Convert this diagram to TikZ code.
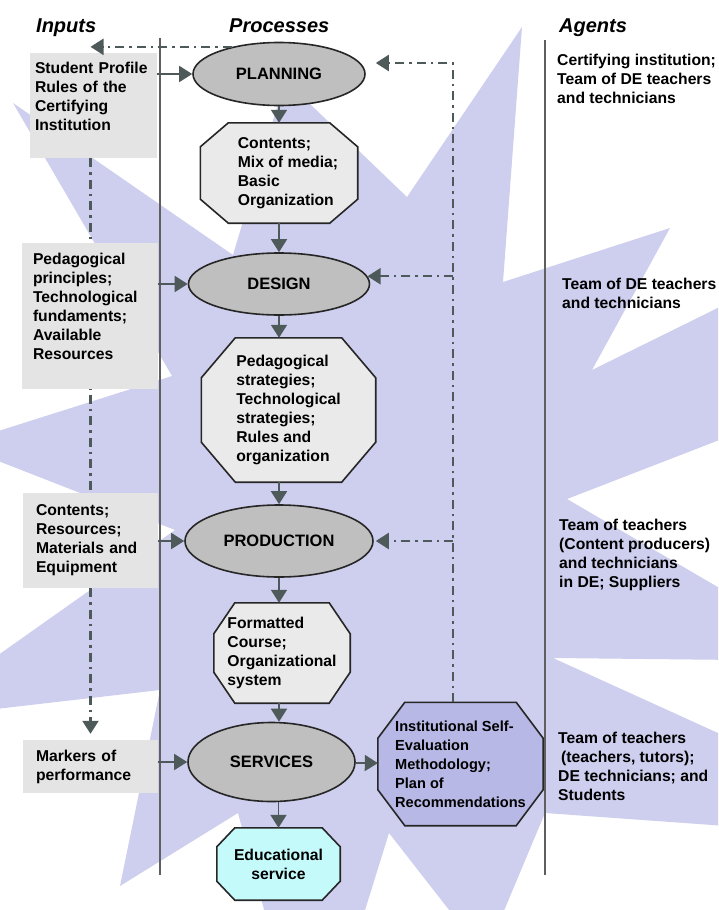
\documentclass[tikz,border=0pt]{standalone}
\usepackage{fontspec}
\setmainfont{Liberation Sans}
\usetikzlibrary{shapes.geometric,arrows.meta,backgrounds}

\definecolor{starbg}{RGB}{206,206,238}
\definecolor{boxgray}{RGB}{228,228,228}
\definecolor{ellgray}{RGB}{190,191,190}
\definecolor{octgray}{RGB}{234,234,234}
\definecolor{octblue}{RGB}{184,184,230}
\definecolor{octcyan}{RGB}{196,250,250}
\definecolor{slate}{RGB}{78,90,90}
\definecolor{rulegray}{RGB}{95,95,95}

\newcommand{\indented}[2]{\begin{tabular}{@{\hspace{#1}}l@{}}#2\end{tabular}}
% octagon frame round a named node: node, chamfer x, chamfer y, fill
\newcommand{\octframe}[4]{%
  \begin{scope}[on background layer]
    \filldraw[octline, fill=#4] ([xshift=#2]#1.north west) -- ([xshift=-#2]#1.north east)
      -- ([yshift=-#3]#1.north east) -- ([yshift=#3]#1.south east)
      -- ([xshift=-#2]#1.south east) -- ([xshift=#2]#1.south west)
      -- ([yshift=#3]#1.south west) -- ([yshift=-#3]#1.north west) -- cycle;
  \end{scope}}

\begin{document}
\begin{tikzpicture}[x=1pt, y=-1pt, >={Triangle[length=13pt,width=16pt]},
  txt/.style={font=\bfseries\fontsize{15.7}{19}\selectfont, align=left, inner sep=0pt},
  inbox/.style={txt, fill=boxgray, inner ysep=0pt},
  proc/.style={ellipse, draw=black!85, line width=1.6pt, fill=ellgray, inner sep=0pt,
    font=\bfseries\fontsize{16.5}{20}\selectfont},
  octbox/.style={rectangle, txt},
  octline/.style={draw=black!85, line width=1.6pt, line join=miter},
  colhead/.style={font=\bfseries\itshape\fontsize{20}{24}\selectfont, inner sep=0pt, anchor=base west},
  flow/.style={->, draw=slate, line width=1.7pt},
  fb/.style={->, draw=slate, line width=2.2pt, dash pattern=on 9pt off 5pt on 2.5pt off 5pt},
  colrule/.style={draw=rulegray, line width=1.4pt}]

  \useasboundingbox (0,0) rectangle (718,910);

  % starburst behind everything
  \begin{scope}[on background layer]
    \clip (0,0) rectangle (718,910);
    \fill[starbg] (522,27) -- (503,282) -- (670,228) -- (592,370) -- (740,297) -- (740,432)
      -- (567,499) -- (740,600) -- (740,660) -- (553,658) -- (740,743) -- (740,827)
      -- (545,813) -- (485,956) -- (389,833) -- (311,1084) -- (238,813) -- (120,886)
      -- (160,690) -- (-30,712) -- (-30,675) -- (175,530) -- (-30,450) -- (-30,440)
      -- (172,376) -- (13,103) -- (233,255) -- (285,80) -- (407,197) -- cycle;
  \end{scope}

  \node[colhead] (hin) at (36,32) {Inputs};
  \node[colhead] (hproc) at (229,32) {Processes};
  \node[colhead] (hag) at (559,32) {Agents};

  \draw[colrule] (160,38) -- (160,875);
  \draw[colrule] (545,40) -- (545,875);

  % inputs
  \node[inbox, text width=117pt, inner xsep=5pt, minimum height=105pt] (in1) at (93.5,105.5)
    {Student Profile\\Rules of the\\Certifying\\Institution\\ \mbox{}};
  \node[inbox, text width=114pt, inner xsep=11pt, minimum height=146pt] (in2) at (90,316)
    {Pedagogical\\principles;\\Technological\\fundaments;\\Available\\Resources\\ \mbox{}};
  \node[inbox, text width=109pt, inner xsep=13pt, minimum height=95pt] (in3) at (90.5,540.5)
    {Contents;\\Resources;\\Materials and\\Equipment};
  \node[inbox, text width=109pt, inner xsep=13pt, minimum height=53pt] (in4) at (90.5,766.5)
    {Markers of\\performance};

  % processes
  \node[proc, minimum width=172pt, minimum height=63pt] (plan) at (279,74) {PLANNING};
  \node[octbox, node distance=99pt, below of=plan, minimum width=157pt, minimum height=100pt] (cont)
    {\indented{18pt}{Contents;\\Mix of media;\\Basic\\Organization}};
  \node[proc, node distance=111pt, below of=cont, minimum width=181pt, minimum height=62pt] (design) {DESIGN};
  \node[octbox, node distance=126pt, below of=design, xshift=9.5pt, minimum width=174pt, minimum height=144pt] (strat)
    {Pedagogical\\strategies;\\Technological\\strategies;\\Rules and\\organization};
  \node[proc, node distance=131pt, below of=strat, xshift=-9.5pt, minimum width=188pt, minimum height=72pt] (prod) {PRODUCTION};
  \node[octbox, node distance=112pt, below of=prod, xshift=3pt, minimum width=136pt, minimum height=100pt] (form)
    {Formatted\\Course;\\Organizational\\system};
  \node[proc, node distance=109pt, below of=form, xshift=-10.5pt, minimum width=167pt, minimum height=79pt] (serv) {SERVICES};
  \node[octbox, node distance=102pt, below of=serv, xshift=7pt, align=center, minimum width=123pt, minimum height=72pt] (edu)
    {Educational\\service};
  \node[octbox, node distance=189pt, right of=serv, yshift=-2pt, minimum width=165pt, minimum height=123pt,
    font=\bfseries\fontsize{14.6}{19}\selectfont] (inst)
    {Institutional Self-\\Evaluation\\Methodology;\\Plan of\\Recommendations};

  \octframe{cont}{28pt}{24pt}{octgray}
  \octframe{strat}{34pt}{40pt}{octgray}
  \octframe{form}{21pt}{31pt}{octgray}
  \octframe{edu}{18pt}{19pt}{octcyan}
  \octframe{inst}{27pt}{36pt}{octblue}

  % agents
  \node[txt, anchor=west] (ag1) at (557,79) {Certifying institution;\\Team of DE teachers\\and technicians};
  \node[txt, anchor=west] (ag2) at (562,293) {Team of DE teachers\\and technicians};
  \node[txt, anchor=west] (ag3) at (559,555) {Team of teachers\\(Content producers)\\and technicians\\in DE; Suppliers};
  \node[txt, anchor=west] (ag4) at (558,766) {Team of teachers\\\hspace*{3pt}(teachers, tutors);\\DE technicians; and\\Students};

  % inputs into processes
  \draw[flow] (in1.east |- plan) -- (plan);
  \draw[flow] (in2.east |- design) -- (design);
  \draw[flow] (in3.east |- prod) -- (prod);
  \draw[flow] (in4.east |- serv) -- (serv);

  % main chain
  \draw[flow] (plan) -- (cont.north -| plan);
  \draw[flow] (cont.south -| plan) -- (design);
  \draw[flow] (design) -- (strat.north -| design);
  \draw[flow] (strat.south -| prod) -- (prod);
  \draw[flow] (prod) -- (form.north -| prod);
  \draw[flow] (form.south -| prod) -- (serv.north -| prod);
  \draw[flow] (serv.south -| edu) -- (edu);
  \draw[flow] (serv) -- (inst);

  % feedback
  \coordinate (fbtop) at (453,63);
  \draw[fb, shorten >=10pt] (inst.north -| fbtop) -- (fbtop) -- (fbtop -| plan.east);
  \draw[fb] (fbtop |- design.5) -- (design.5);
  \draw[fb, shorten >=2pt] (fbtop |- prod.east) -- (prod.east);

  \coordinate (back) at (in4.north |- plan.150);
  \draw[fb] (plan.150) -- (back);
  \begin{scope}[on background layer]
    \draw[fb, shorten >=6pt] (in1.south -| in4.north) -- (in4.north);
  \end{scope}
\end{tikzpicture}
\end{document}
